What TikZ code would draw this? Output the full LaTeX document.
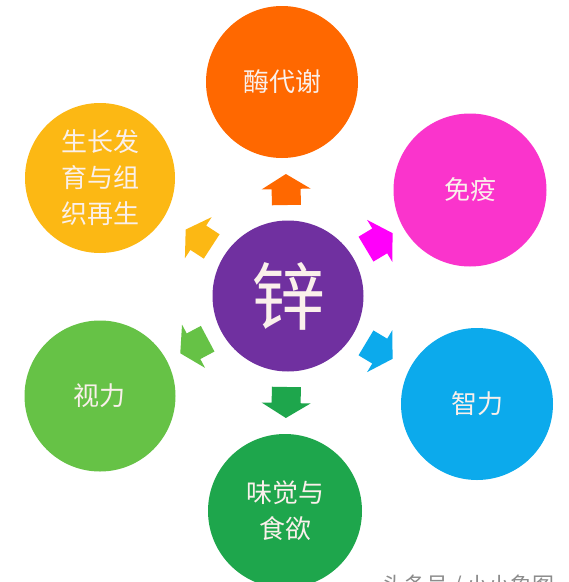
\documentclass[tikz,border=0pt]{standalone}
\usepackage{fontspec}
\newfontfamily\cjk{Noto Sans CJK SC}
\definecolor{cOrange}{RGB}{255,104,0}
\definecolor{cPink}{RGB}{250,52,204}
\definecolor{cMag}{RGB}{255,0,250}
\definecolor{cBlue}{RGB}{12,170,236}
\definecolor{cGreenD}{RGB}{30,166,76}
\definecolor{cGreenL}{RGB}{102,194,70}
\definecolor{cYellow}{RGB}{252,184,20}
\definecolor{cPurple}{RGB}{112,48,160}
\definecolor{cText}{RGB}{250,240,235}
\tikzset{
  bubble/.style={circle, minimum size=#1, inner sep=0pt, text=cText, align=center,
    font=\cjk\fontsize{26}{36}\selectfont},
  blockarrow/.style={fill=#1, draw=none}
}
\newcommand{\zarrow}[2]{%
  \begin{scope}[shift={(zn.center)}, rotate=#1]
    \fill[#2] (91,-14.5) -- (107,-14.5) -- (107,-24.5) -- (122,0) -- (107,24.5) -- (107,14.5) -- (91,14.5) -- cycle;
  \end{scope}}
\begin{document}
\begin{tikzpicture}[x=1pt,y=-1pt]
\useasboundingbox[fill=white] (0,0) rectangle (569,582);
% outer circles
\node[bubble=152pt, fill=cOrange] (enz) at (282,82) {酶代谢};
\node[bubble=153pt, fill=cPink] (imm) at (470,190) {免疫};
\node[bubble=152pt, fill=cBlue] (intel) at (477,404) {智力};
\node[bubble=154pt, fill=cGreenD] (taste) at (285,511) {味觉与\\食欲};
\node[bubble=151pt, fill=cGreenL] (vis) at (100,396) {视力};
\node[bubble=150pt, fill=cYellow] (grow) at (100,178) {生长发\\育与组\\织再生};
% center
\node[circle, minimum size=151pt, inner sep=0pt, fill=cPurple, text=cText,
  font=\cjk\fontsize{74}{74}\selectfont] (zn) at (288,296) {锌};
% block arrows
\zarrow{91}{cOrange}
\zarrow{31}{cMag}
\zarrow{-31}{cBlue}
\zarrow{-91}{cGreenD}
\zarrow{-152}{cGreenL}
\zarrow{147}{cYellow}
% watermark (cut by the lower edge, as in the reference)
\node[anchor=north west, inner sep=0pt, text=black!45, font=\cjk\fontsize{22}{22}\selectfont] (wm) at (382,575) {头条号 / 小小象图};
\end{tikzpicture}
\end{document}
